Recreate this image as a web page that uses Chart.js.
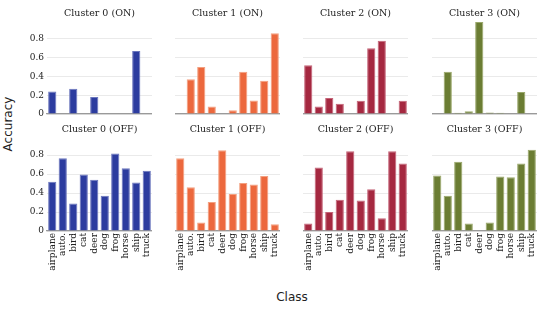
<!DOCTYPE html>
<html>
<head>
<meta charset="utf-8">
<script src="https://cdn.jsdelivr.net/npm/chart.js@4.4.1/dist/chart.umd.min.js"></script>
<style>
  html, body { margin: 0; padding: 0; background: #fff; }
  #wrap { position: relative; width: 538px; height: 318px; overflow: hidden; }
  #wrap canvas { position: absolute; }
  .lbl { position: absolute; font-family: "DejaVu Sans", sans-serif; font-size: 12px; color: #222; white-space: nowrap; }
</style>
</head>
<body>
<div id="wrap">
  <div class="lbl" style="left:8px; top:124px; transform: translate(-50%, -50%) rotate(-90deg);">Accuracy</div>
  <div class="lbl" style="left:292px; top:297px; transform: translate(-50%, -50%);">Class</div>
</div>
<script>
(function () {
    'use strict';

    var classes = ['airplane', 'auto.', 'bird', 'cat', 'deer', 'dog', 'frog', 'horse', 'ship', 'truck'];
    var clusterNames = ['Cluster 0', 'Cluster 1', 'Cluster 2', 'Cluster 3'];
    var yTicks = [0, 0.2, 0.4, 0.6, 0.8];

    // accuracy per class, clusters ON
    var on0 = [0.24, 0, 0.27, 0, 0.18, 0, 0, 0, 0.67, 0];
    var on1 = [0, 0.37, 0.50, 0.08, 0, 0.04, 0.45, 0.145, 0.355, 0.86];
    var on2 = [0.52, 0.08, 0.17, 0.11, 0, 0.14, 0.70, 0.78, 0, 0.14];
    var on3 = [0, 0.45, 0.012, 0.03, 0.98, 0.015, 0.012, 0, 0.235, 0];
    // accuracy per class, clusters OFF
    var off0 = [0.52, 0.765, 0.29, 0.595, 0.54, 0.37, 0.815, 0.66, 0.51, 0.635];
    var off1 = [0.765, 0.46, 0.09, 0.305, 0.85, 0.39, 0.505, 0.49, 0.58, 0.07];
    var off2 = [0.08, 0.67, 0.20, 0.33, 0.84, 0.32, 0.44, 0.135, 0.84, 0.71];
    var off3 = [0.585, 0.37, 0.73, 0.08, 0, 0.09, 0.575, 0.565, 0.71, 0.855];

    var colors = ['#2c3c9f', '#ec683d', '#a52840', '#6b7d33'];
    var edges = ['#6a76bd', '#f3a080', '#c56478', '#9aa86a'];

    var rows = [[on0, on1, on2, on3], [off0, off1, off2, off3]];
    var plotLeft = [47, 175, 303, 432];
    var plotWidth = 105;
    var serif = '"DejaVu Serif", serif';

    // panel title centred over the plot area, not the whole canvas
    var panelTitle = {
        id: 'panelTitle',
        afterDraw: function (chart, args, opts) {
            var ctx = chart.ctx, a = chart.chartArea;
            ctx.save();
            ctx.font = 'normal 9.5px ' + serif;
            ctx.fillStyle = '#222';
            ctx.textAlign = 'center';
            ctx.textBaseline = 'middle';
            ctx.fillText(opts.text, (a.left + a.right) / 2, opts.y);
            ctx.restore();
        }
    };

    function makeChart(r, c) {
        var first = c === 0;
        var bottom = r === 1;
        var cv = document.createElement('canvas');
        var left = first ? 0 : plotLeft[c];
        var w = first ? plotLeft[0] + plotWidth : plotWidth;
        var top = bottom ? 118 : 0;
        var h = bottom ? 170 : 116;
        cv.width = w; cv.height = h;
        cv.style.left = left + 'px';
        cv.style.top = top + 'px';
        cv.style.width = w + 'px';
        cv.style.height = h + 'px';
        document.getElementById('wrap').appendChild(cv);

        return new Chart(cv, {
            type: 'bar',
            data: {
                labels: classes,
                datasets: [{
                    data: rows[r][c],
                    backgroundColor: colors[c],
                    borderColor: edges[c],
                    borderWidth: 1,
                    barPercentage: 0.78,
                    categoryPercentage: 1
                }]
            },
            options: {
                responsive: false,
                animation: false,
                devicePixelRatio: 1,
                layout: { padding: { top: bottom ? 19 : 21, bottom: bottom ? 0 : 2, left: 0, right: 0 } },
                plugins: {
                    legend: { display: false },
                    tooltip: { enabled: false },
                    title: { display: false },
                    panelTitle: {
                        text: clusterNames[c] + (bottom ? ' (OFF)' : ' (ON)'),
                        y: bottom ? 12 : 14
                    }
                },
                scales: {
                    x: {
                        grid: { display: false, drawTicks: false },
                        border: { display: true, color: '#9a9a9a', width: 1.3 },
                        ticks: {
                            display: bottom,
                            autoSkip: false,
                            minRotation: 90,
                            maxRotation: 90,
                            padding: 2,
                            color: '#222',
                            font: { family: serif, size: 9 }
                        },
                        afterFit: function (scale) {
                            scale.height = bottom ? 57 : 0;
                            scale.paddingLeft = 0; scale.paddingRight = 0;
                        }
                    },
                    y: {
                        min: 0,
                        max: 0.99,
                        grid: { color: '#e4e4e4', lineWidth: 0.8, drawTicks: false },
                        border: { display: false },
                        ticks: {
                            display: first,
                            padding: 3,
                            color: '#222',
                            font: { family: serif, size: 9 },
                            callback: function (v) { return v === 0 ? '0' : v.toFixed(1); }
                        },
                        afterBuildTicks: function (scale) {
                            scale.ticks = yTicks.map(function (v) { return { value: v }; });
                        },
                        afterFit: function (scale) {
                            scale.width = first ? plotLeft[0] : 0;
                            scale.paddingTop = 0; scale.paddingBottom = 0;
                        }
                    }
                }
            },
            plugins: [panelTitle]
        });
    }

    for (var r = 0; r < 2; r++) {
        for (var c = 0; c < 4; c++) { makeChart(r, c); }
    }
})();
</script>
</body>
</html>
